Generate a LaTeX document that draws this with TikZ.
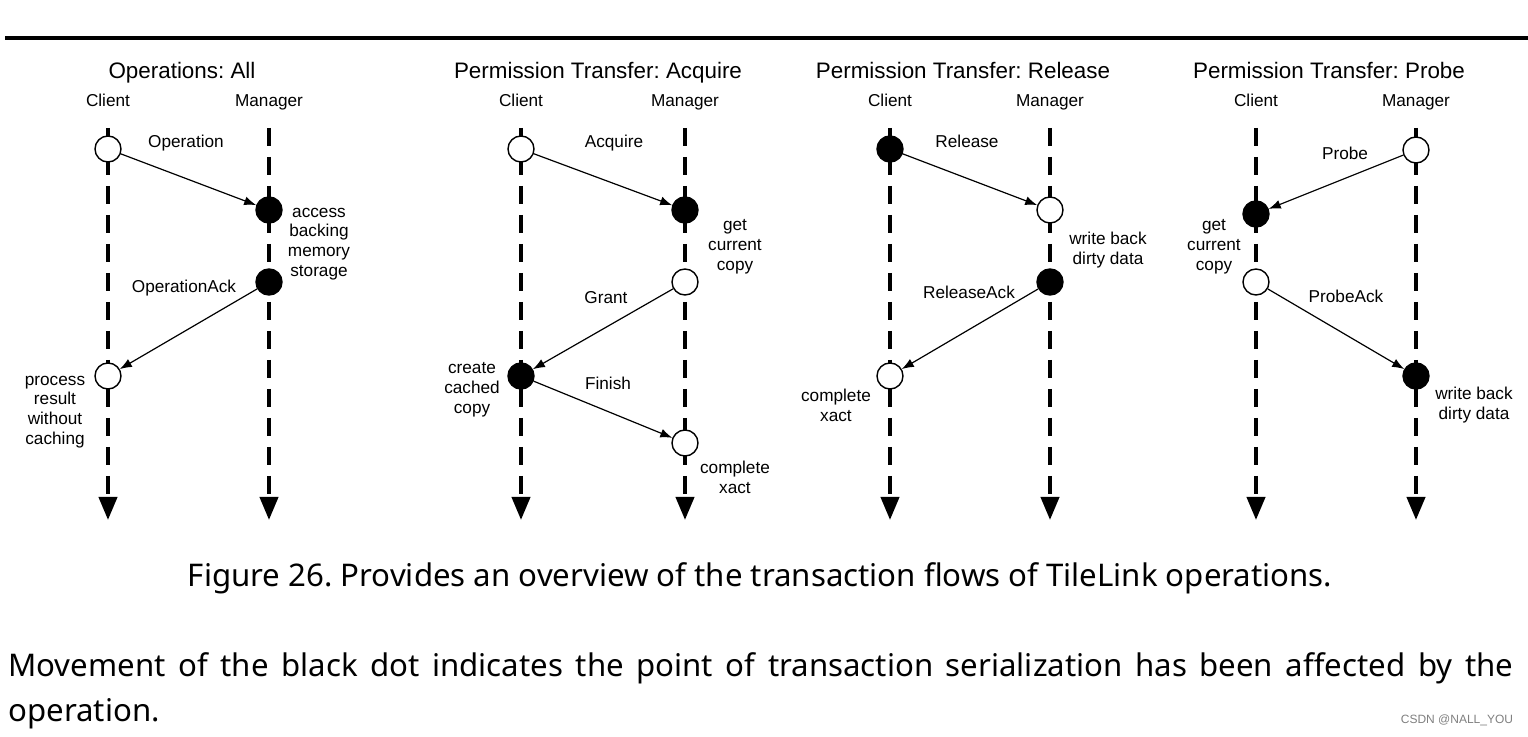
\documentclass[tikz,border=0pt]{standalone}
\usepackage{fontspec}
\setmainfont{Liberation Sans}
\newfontfamily\capfont{Noto Sans}
\usetikzlibrary{arrows.meta}
\frenchspacing

\tikzset{
  lifeline/.style={line width=2pt, dash pattern=on 9pt off 5.5pt, -{Triangle[length=11.5pt,width=9pt]}},
  msg/.style={line width=0.6pt, -{Latex[length=6pt,width=4.5pt]}},
  evopen/.style={circle, draw, line width=0.7pt, fill=white, minimum size=13pt, inner sep=0pt},
  evdone/.style={evopen, fill=black},
  lbl/.style={font=\fontsize{8.6}{9.9}\selectfont, align=center, inner sep=1pt},
  word/.style={lbl, anchor=base},
  ttl/.style={font=\fontsize{11.2}{13}\selectfont, inner sep=1pt, anchor=base},
  captxt/.style={font=\capfont\fontsize{15.6}{19}\selectfont, inner sep=0pt, anchor=base},
}

\begin{document}
\begin{tikzpicture}[x=0.5pt, y=-0.5pt]
\useasboundingbox[fill=white] (0,0) rectangle (1528,737);
\coordinate (ruleL) at (5,38);
\coordinate (ruleR) at (1528,38);
\draw[line width=2pt] (ruleL) -- (ruleR);

% titles
\node[ttl] (t1) at (182,79) {Operations: All};
\node[ttl] (t2) at (598,79) {Permission Transfer: Acquire};
\node[ttl] (t3) at (963,79) {Permission Transfer: Release};
\node[ttl] (t4) at (1329,79) {Permission Transfer: Probe};

% lifelines
\foreach \c/\m [count=\i] in {108/269, 521/685, 890/1050, 1256/1416} {
  \node[word] (cl\i) at (\c,107) {Client};
  \node[word] (mg\i) at (\m,107) {Manager};
  \coordinate (cltop\i) at (\c,128);
  \coordinate (clbot\i) at (\c,520);
  \coordinate (mgtop\i) at (\m,128);
  \coordinate (mgbot\i) at (\m,520);
  \draw[lifeline] (cltop\i) -- (clbot\i);
  \draw[lifeline] (mgtop\i) -- (mgbot\i);
}

% Operations: All
\node[evopen] (oc1) at (108,149) {};
\node[evdone] (om1) at (269,210) {};
\node[evdone] (om2) at (269,282) {};
\node[evopen] (oc2) at (108,376) {};
\draw[msg] (oc1) -- (om1);
\draw[msg] (om2) -- (oc2);
\node[word] at (186,148) {Operation};
\node[lbl] at (319,244) {access\\backing\\memory\\storage};
\node[word] at (184,293) {OperationAck};
\node[lbl] at (55,412) {process\\result\\without\\caching};

% Acquire
\node[evopen] (ac1) at (521,149) {};
\node[evdone] (am1) at (685,210) {};
\node[evopen] (am2) at (685,282) {};
\node[evdone] (ac2) at (521,376) {};
\node[evopen] (am3) at (685,443) {};
\draw[msg] (ac1) -- (am1);
\draw[msg] (am2) -- (ac2);
\draw[msg] (ac2) -- (am3);
\node[word] at (614,148) {Acquire};
\node[lbl] at (735,247) {get\\current\\copy};
\node[word] at (606,304) {Grant};
\node[lbl] at (472,390) {create\\cached\\copy};
\node[word] at (608,390) {Finish};
\node[lbl] at (735,477) {complete\\xact};

% Release
\node[evdone] (rc1) at (890,149) {};
\node[evopen] (rm1) at (1050,210) {};
\node[evdone] (rm2) at (1050,282) {};
\node[evopen] (rc2) at (890,376) {};
\draw[msg] (rc1) -- (rm1);
\draw[msg] (rm2) -- (rc2);
\node[word] at (967,148) {Release};
\node[lbl] at (1108,250) {write back\\dirty data};
\node[word] at (969,299) {ReleaseAck};
\node[lbl] at (836,405) {complete\\xact};

% Probe
\node[evopen] (pm1) at (1416,150) {};
\node[evdone] (pc1) at (1256,214) {};
\node[evopen] (pc2) at (1256,282) {};
\node[evdone] (pm2) at (1416,376) {};
\draw[msg] (pm1) -- (pc1);
\draw[msg] (pc2) -- (pm2);
\node[word] at (1345,160) {Probe};
\node[lbl] at (1214,247) {get\\current\\copy};
\node[word] at (1346,303) {ProbeAck};
\node[lbl] at (1474,405) {write back\\dirty data};

% caption and text
\node[captxt] (cap) at (760,587) {Figure 26. Provides an overview of the transaction flows of TileLink operations.};
\node[captxt, anchor=base west] (body1) at (8,677) {\makebox[752.5pt][s]{Movement of the black dot indicates the point of transaction serialization has been affected by the}};
\node[captxt, anchor=base west] (body2) at (8,722) {operation.};
\node[font=\fontsize{6}{7}\selectfont, text=gray, inner sep=0pt] (wm) at (1457,720) {CSDN @NALL\_YOU};
\end{tikzpicture}
\end{document}
